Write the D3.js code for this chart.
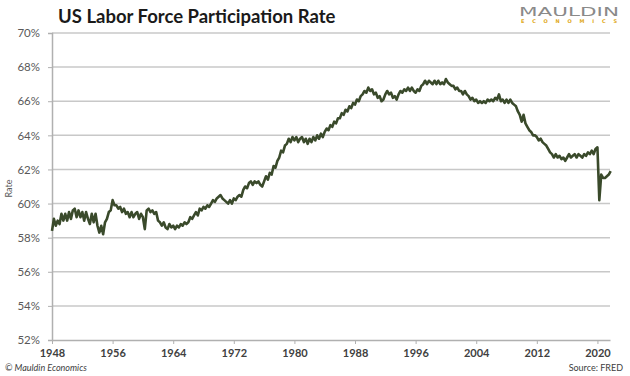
<!DOCTYPE html>
<html>
<head>
<meta charset="utf-8">
<script src="https://cdn.jsdelivr.net/npm/d3@7/dist/d3.min.js"></script>
<style>
html,body{margin:0;padding:0;background:#fff;}
svg{display:block;}
</style>
</head>
<body>
<svg id="chart" width="630" height="376"></svg>
<script>
// ---- data (quarterly) ----
const startYear = 1948;
const periodsPerYear = 4;
const rate = [
  58.4,59.1,58.7,59.0, 58.8,59.4,59.0,59.4, 59.0,59.5,59.1,59.6, 59.7,59.2,59.6,59.2,
  59.5,59.0,59.5,59.1, 58.8,59.4,58.9,59.4, 58.7,58.3,58.7,58.2, 58.9,59.1,59.5,59.6,
  60.2,59.9,59.9,59.7, 59.8,59.5,59.7,59.4, 59.5,59.2,59.5,59.2, 59.4,59.5,59.1,59.4,
  59.2,58.5,59.6,59.7, 59.5,59.6,59.4,59.5, 59.0,58.9,58.7,58.9, 58.6,58.5,58.8,58.6,
  58.7,58.5,58.7,58.6, 58.8,58.7,58.9,58.8, 58.9,59.2,59.1,59.3, 59.5,59.3,59.7,59.6,
  59.8,59.7,59.9,59.8, 60.0,60.2,60.1,60.3, 60.4,60.5,60.3,60.2, 60.1,60.0,60.2,60.0,
  60.3,60.2,60.4,60.5, 60.4,60.8,61.0,60.9, 61.2,61.3,61.1,61.3, 61.2,61.3,61.1,61.0,
  61.3,61.6,61.4,61.8, 61.7,62.2,62.1,62.5, 62.7,63.1,63.0,63.4, 63.5,63.8,63.6,63.9,
  63.7,63.9,63.6,63.8, 63.9,63.6,63.8,63.5, 63.8,63.6,63.9,63.7, 64.0,63.8,64.1,63.9,
  64.2,64.4,64.3,64.6, 64.5,64.8,64.7,65.0, 65.0,65.3,65.2,65.5, 65.4,65.7,65.6,65.9,
  65.8,66.1,66.0,66.3, 66.4,66.6,66.5,66.8, 66.6,66.7,66.4,66.5, 66.2,66.3,66.0,66.1,
  66.4,66.6,66.4,66.5, 66.2,66.3,66.1,66.4, 66.6,66.5,66.7,66.6, 66.8,66.6,66.8,66.6,
  66.5,66.7,66.6,66.9, 67.0,67.2,67.0,67.2, 67.1,67.0,67.2,67.0, 67.2,67.0,67.1,67.0,
  67.3,67.1,67.0,66.9, 66.9,66.7,66.8,66.6, 66.6,66.4,66.6,66.4, 66.3,66.1,66.2,66.0,
  66.1,65.9,66.0,65.9, 66.0,65.9,66.1,66.0, 66.1,66.0,66.2,66.1, 66.4,66.0,66.1,65.9,
  66.1,65.9,66.1,65.9, 65.8,65.7,65.4,65.2, 64.8,65.2,64.7,64.5, 64.3,64.2,64.0,64.0,
  63.9,63.7,63.8,63.6, 63.5,63.4,63.2,63.0, 62.9,62.7,62.9,62.7, 62.8,62.6,62.7,62.5,
  62.7,62.9,62.7,62.8, 62.9,62.7,62.9,62.8, 62.7,62.9,62.8,63.0, 62.9,63.1,62.9,63.2,
  63.3,60.2,61.7,61.5, 61.5,61.6,61.7,61.9
];
const yTicks = [52,54,56,58,60,62,64,66,68,70];
const xTicks = [1948,1956,1964,1972,1980,1988,1996,2004,2012,2020];
const titleText = "US Labor Force Participation Rate";
const yAxisTitle = "Rate";
const footLeft = "\u00A9 Mauldin Economics";
const footRight = "Source: FRED";

// ---- drawing ----
const svg = d3.select("#chart");
const font = "Lato, 'Open Sans', 'DejaVu Sans', sans-serif";
const data = rate.map((v,i)=>({t: startYear + i/periodsPerYear, v}));

const x = d3.scaleLinear().domain([1948, 2021.66]).range([52, 610]);
const y = d3.scaleLinear().domain([52, 70]).range([340, 33]);

// gridlines
svg.append("g").selectAll("line").data(yTicks.filter(d=>d>52)).join("line")
  .attr("x1", x(1948)).attr("x2", x.range()[1])
  .attr("y1", d=>y(d)).attr("y2", d=>y(d))
  .attr("stroke", "#c8c8c8").attr("stroke-width", 1.5);

// y axis
const yAxis = d3.axisLeft(y).tickValues(yTicks).tickFormat(d=>d+"%").tickSize(4).tickPadding(8);
const gy = svg.append("g").attr("transform", `translate(${x(1948)},0)`).call(yAxis);
gy.select(".domain").attr("stroke", "#b0b0b0").attr("stroke-width", 1.5);
gy.selectAll(".tick line").attr("stroke", "#b0b0b0");
gy.selectAll("text").attr("font-family", font).attr("font-size", 11.5).attr("fill", "#595959");

// x axis
const xAxis = d3.axisBottom(x).tickValues(xTicks).tickFormat(d3.format("d")).tickSize(4).tickSizeOuter(0).tickPadding(5);
const gx = svg.append("g").attr("transform", `translate(0,${y(52)})`).call(xAxis);
gx.select(".domain").attr("stroke", "#b0b0b0").attr("stroke-width", 1.5);
gx.selectAll(".tick line").attr("stroke", "#b0b0b0");
gx.selectAll("text").attr("font-family", font).attr("font-size", 11).attr("font-weight", 700).attr("fill", "#404040");

// line
const line = d3.line().x(d=>x(d.t)).y(d=>y(d.v)).curve(d3.curveLinear);
svg.append("path").datum(data)
  .attr("d", line).attr("fill", "none")
  .attr("stroke", "#3a4a2b").attr("stroke-width", 2.6)
  .attr("stroke-linejoin", "round");

// title
svg.append("text").attr("x", 58).attr("y", 23)
  .attr("font-family", font).attr("font-weight", 700).attr("font-size", 18.5)
  .attr("fill", "#1a1a1a").text(titleText);

// y axis title
svg.append("text").attr("transform", `translate(12,${(y(62)+y(60))/2+2}) rotate(-90)`)
  .attr("text-anchor", "middle").attr("font-family", font).attr("font-size", 9)
  .attr("fill", "#595959").text(yAxisTitle);

// logo
svg.append("text").attr("x", 519).attr("y", 16)
  .attr("font-family", "'DejaVu Sans', sans-serif").attr("font-size", 11.5)
  .attr("fill", "#8a8a8a").attr("textLength", 100).attr("lengthAdjust", "spacingAndGlyphs")
  .text("MAULDIN");
svg.append("text").attr("x", 521).attr("y", 22.5)
  .attr("font-family", "'DejaVu Sans', sans-serif").attr("font-size", 5).attr("font-weight", 700)
  .attr("fill", "#e0a91a").attr("textLength", 96).attr("lengthAdjust", "spacing")
  .text("ECONOMICS");

// footer
svg.append("text").attr("x", 5).attr("y", 371)
  .attr("font-family", font).attr("font-style", "italic").attr("font-size", 9)
  .attr("fill", "#404040").text(footLeft);
svg.append("text").attr("x", 623).attr("y", 371).attr("text-anchor", "end")
  .attr("font-family", font).attr("font-size", 9)
  .attr("fill", "#404040").text(footRight);
</script>
</body>
</html>
